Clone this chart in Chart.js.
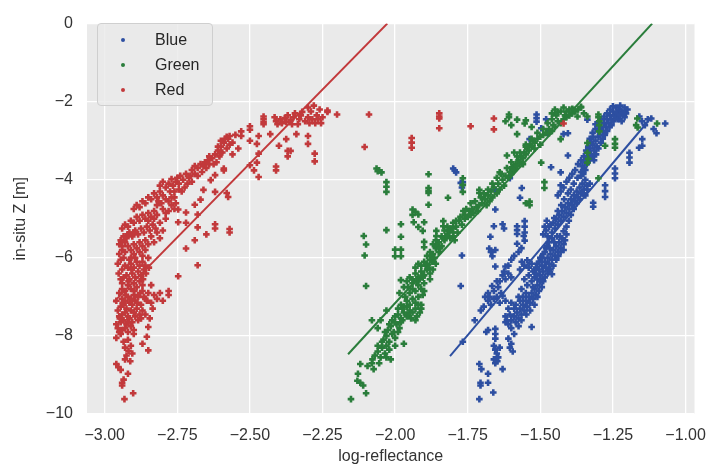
<!DOCTYPE html>
<html>
<head>
<meta charset="utf-8">
<script src="https://cdn.jsdelivr.net/npm/chart.js@4.4.1/dist/chart.umd.min.js"></script>
<style>
  body { margin: 0; background: #fff; }
  #wrap { position: relative; width: 718px; height: 470px; }
  #legend {
    position: absolute; left: 97px; top: 23px; width: 114px; height: 81px;
    background: rgba(234,234,234,0.8); border: 1px solid #cfcfcf; border-radius: 4px;
    font-family: "Liberation Sans", Arial, sans-serif; font-size: 16px; color: #262626;
  }
  #legend .row { position: absolute; left: 0; height: 20px; line-height: 20px; }
  #legend .dot { position: absolute; left: 23px; top: 8px; width: 4px; height: 4px; border-radius: 2px; }
  #legend .txt { position: absolute; left: 57px; top: 0; white-space: nowrap; }
</style>
</head>
<body>
<div id="wrap">
  <canvas id="chart" width="718" height="470"></canvas>
  <div id="legend"></div>
</div>
<script>
const seriesNames = ['Blue', 'Green', 'Red'];
const seriesColors = ['#2d4fa1', '#2a7d3b', '#c2393b'];

const xTicks = [-3.00, -2.75, -2.50, -2.25, -2.00, -1.75, -1.50, -1.25, -1.00];
const yTicks = [-10, -8, -6, -4, -2, 0];

// regression lines, start and end points
const blueFit = [[-1.811, -8.52], [-1.115, -2.38]];
const greenFit = [[-2.162, -8.47], [-1.115, 0]];
const redFit = [[-2.97, -7.14], [-2.027, 0]];

const bluePoints = [
  [-1.71,-9.62],[-1.662,-9.45],[-1.706,-9.2],[-1.706,-9.27],[-1.68,-9.2],[-1.68,-8.97],[-1.71,-8.72],[-1.703,-8.85],
  [-1.655,-8.7],[-1.63,-8.85],[-1.66,-8.25],[-1.655,-8.35],[-1.65,-8.45],[-1.645,-8.55],[-1.64,-8.3],[-1.66,-8.6],[-1.648,-8.65],
  [-1.655,-7.82],[-1.655,-7.95],[-1.655,-8.07],[-1.686,-7.9],[-1.68,-7.85],[-1.61,-8.07],[-1.6,-8.2],[-1.595,-8.4],[-1.605,-8.3],
  [-1.62,-7.5],[-1.615,-7.6],[-1.61,-7.7],[-1.6,-7.8],[-1.59,-7.95],[-1.53,-7.77],
  [-1.767,-8.15],[-1.726,-7.6],[-1.69,-7.0],[-1.68,-7.1],[-1.67,-7.2],[-1.66,-7.05],[-1.65,-7.0],[-1.64,-7.15],[-1.63,-6.97],
  [-1.62,-7.1],[-1.666,-6.72],[-1.63,-6.45],[-1.62,-6.55],[-1.61,-6.4],[-1.6,-6.5],[-1.655,-6.22],[-1.62,-6.22],
  [-1.676,-5.76],[-1.67,-5.85],[-1.665,-5.96],[-1.655,-5.8],[-1.672,-5.46],[-1.58,-5.64],[-1.557,-5.44],
  [-1.564,-6.1],[-1.555,-6.2],[-1.545,-6.06],[-1.54,-6.25],[-1.53,-6.15],[-1.52,-6.31],[-1.57,-6.3],
  [-1.6,-7.6],[-1.59,-7.5],[-1.585,-7.65],[-1.58,-7.4],[-1.575,-7.55],[-1.57,-7.3],[-1.565,-7.45],[-1.56,-7.2],[-1.555,-7.35],
  [-1.55,-7.1],[-1.545,-7.25],[-1.54,-7.0],[-1.535,-7.15],[-1.53,-6.9],[-1.525,-7.05],[-1.52,-6.8],[-1.515,-6.95],[-1.51,-6.7],
  [-1.505,-6.85],[-1.5,-6.6],[-1.55,-6.9],[-1.56,-7.0],[-1.57,-7.1],[-1.52,-6.5],[-1.515,-6.4],[-1.51,-6.55],[-1.505,-6.3],
  [-1.5,-6.45],[-1.495,-6.2],[-1.49,-6.35],[-1.485,-6.1],[-1.48,-6.25],[-1.475,-6.0],[-1.47,-6.15],[-1.465,-5.9],[-1.46,-6.05],
  [-1.455,-5.8],[-1.45,-5.95],[-1.445,-5.7],[-1.44,-5.85],[-1.435,-5.6],[-1.43,-5.75],[-1.425,-5.5],[-1.42,-5.65],
  [-1.49,-5.9],[-1.48,-5.75],[-1.47,-5.6],[-1.46,-5.5],[-1.5,-6.0],[-1.51,-6.15],
  [-1.49,-5.4],[-1.48,-5.3],[-1.475,-5.45],[-1.47,-5.2],[-1.46,-5.35],[-1.455,-5.1],[-1.45,-5.25],[-1.445,-5.0],[-1.44,-5.15],
  [-1.435,-4.9],[-1.43,-5.05],[-1.425,-4.8],[-1.42,-4.95],[-1.415,-4.7],[-1.41,-4.85],[-1.405,-4.6],[-1.4,-4.75],[-1.395,-4.5],
  [-1.39,-4.65],[-1.385,-4.4],[-1.38,-4.55],[-1.375,-4.3],[-1.37,-4.45],[-1.365,-4.2],[-1.36,-4.35],[-1.355,-4.1],[-1.35,-4.25],
  [-1.345,-4.0],[-1.34,-4.15],[-1.44,-4.4],[-1.43,-4.3],[-1.42,-4.2],[-1.41,-4.05],[-1.4,-3.95],[-1.39,-3.85],[-1.38,-3.75],[-1.37,-3.6],
  [-1.36,-3.5],[-1.355,-3.65],[-1.35,-3.4],[-1.345,-3.55],[-1.34,-3.3],[-1.335,-3.45],[-1.33,-3.2],[-1.325,-3.35],[-1.32,-3.1],
  [-1.315,-3.25],[-1.31,-3.0],[-1.305,-3.15],[-1.3,-2.9],[-1.3,-2.75],[-1.295,-2.85],[-1.29,-2.65],[-1.285,-2.75],[-1.28,-2.55],
  [-1.275,-2.65],[-1.27,-2.45],[-1.265,-2.55],[-1.26,-2.35],[-1.255,-2.45],[-1.25,-2.25],[-1.245,-2.35],[-1.24,-2.15],[-1.235,-2.3],
  [-1.23,-2.2],[-1.225,-2.1],[-1.22,-2.25],[-1.21,-2.15],[-1.205,-2.3],[-1.2,-2.2],[-1.21,-2.4],[-1.22,-2.5],[-1.33,-2.95],
  [-1.32,-2.8],[-1.31,-2.7],[-1.3,-2.6],[-1.35,-3.7],[-1.36,-3.9],
  [-1.159,-2.38],[-1.15,-2.5],[-1.14,-2.6],[-1.13,-2.45],[-1.118,-2.43],[-1.11,-2.7],[-1.10,-2.81],[-1.07,-2.56],[-1.149,-2.96],
  [-1.149,-3.13],[-1.16,-3.18],[-1.193,-3.31],[-1.193,-3.43],[-1.193,-3.56],[-1.243,-3.71],[-1.243,-3.84],[-1.243,-3.96],
  [-1.277,-4.14],[-1.277,-4.29],[-1.277,-4.44],[-1.318,-4.59],[-1.318,-4.69],
  [-1.513,-2.33],[-1.513,-2.42],[-1.513,-2.51],[-1.497,-2.68],[-1.473,-2.81],[-1.537,-2.96],[-1.42,-2.83],[-1.405,-3.38],
  [-1.463,-3.68],[-1.43,-3.81],[-1.43,-4.14],[-1.655,-4.26],[-1.564,-4.21],[-1.57,-4.46],[-1.605,-3.96],[-1.58,-5.19],
  [-1.58,-5.29],[-1.58,-5.39],[-1.554,-5.06],[-1.554,-5.2],[-1.554,-5.35],[-1.554,-5.56],[-1.63,-5.14],[-1.625,-5.25],
  [-1.66,-5.19],[-1.655,-4.76],[-1.767,-4.06],[-1.80,-3.71],[-1.795,-3.76],[-1.79,-3.81],[-1.774,-4.08],[-1.77,-4.2],
  [-1.77,-5.94],[-1.774,-6.72],[-1.405,-2.81],[-1.338,-2.46],[-1.48,-2.45],
  [-1.59,-7.3],[-1.575,-7.0],[-1.565,-6.8],[-1.545,-6.7],[-1.53,-6.6],[-1.555,-6.55],[-1.54,-6.45],[-1.525,-6.75],[-1.6,-7.15],
  [-1.61,-7.3],[-1.585,-7.2],[-1.62,-7.65],[-1.605,-7.45],[-1.575,-7.75],[-1.565,-7.6],[-1.548,-7.45],[-1.535,-7.35],[-1.52,-7.2],
  [-1.51,-7.0],[-1.495,-6.75],[-1.49,-6.6],
  [-1.485,-6.5],[-1.475,-6.4],[-1.465,-6.3],[-1.455,-6.2],[-1.445,-6.05],[-1.438,-5.95],[-1.43,-5.85],[-1.42,-5.8],[-1.415,-5.55],
  [-1.41,-5.4],[-1.525,-6.35],[-1.515,-6.25],[-1.505,-6.1],[-1.495,-6.0],[-1.485,-5.85],[-1.478,-5.7],[-1.468,-5.75],[-1.452,-5.6],
  [-1.442,-5.45],[-1.47,-6.32],[-1.46,-6.42],[-1.498,-6.58],
  [-1.465,-5.15],[-1.452,-4.98],[-1.44,-4.8],[-1.428,-4.65],[-1.418,-4.5],[-1.405,-4.35],[-1.395,-4.25],[-1.385,-4.1],[-1.372,-3.95],
  [-1.41,-5.2],[-1.402,-5.05],[-1.395,-4.9],[-1.385,-4.75],[-1.375,-4.6],[-1.365,-4.5],[-1.352,-4.35],[-1.345,-4.4],[-1.338,-4.25],
  [-1.33,-4.1],[-1.42,-5.32],[-1.432,-5.45],[-1.485,-5.2],[-1.478,-5.05],
  [-1.36,-3.8],[-1.352,-3.85],[-1.345,-3.75],[-1.34,-3.6],[-1.33,-3.5],[-1.322,-3.4],[-1.315,-3.5],[-1.308,-3.35],[-1.3,-3.2],
  [-1.292,-3.05],[-1.285,-2.95],[-1.278,-2.85],[-1.27,-2.75],[-1.262,-2.65],[-1.255,-2.6],[-1.248,-2.5],[-1.24,-2.4],[-1.232,-2.45],
  [-1.225,-2.35],[-1.215,-2.28],[-1.25,-2.12],[-1.26,-2.2],[-1.27,-2.3],[-1.28,-2.38],[-1.29,-2.45],[-1.3,-2.52],[-1.31,-2.58],
  [-1.318,-2.9],[-1.325,-3.05],[-1.335,-3.15],[-1.342,-3.25],
  [-1.705,-7.35],[-1.695,-7.25],[-1.675,-7.0],[-1.66,-6.85],[-1.645,-6.75],[-1.64,-6.6],[-1.625,-6.35],[-1.61,-6.2],[-1.6,-6.05],
  [-1.59,-5.95],[-1.575,-5.85],[-1.565,-5.75],[-1.68,-6.9],[-1.65,-6.6],[-1.635,-6.9]
];

const greenPoints = [
  [-2.152,-9.62],[-2.10,-9.47],[-2.13,-9.15],[-2.12,-9.2],[-2.11,-9.27],[-2.128,-8.97],[-2.12,-8.72],[-2.095,-8.77],
  [-2.074,-8.85],[-2.08,-8.7],[-2.078,-8.6],[-2.07,-8.5],[-2.06,-8.4],[-2.05,-8.55],[-2.045,-8.3],[-2.035,-8.45],[-2.03,-8.25],
  [-2.02,-8.35],[-2.015,-8.6],[-2.06,-8.25],
  [-2.04,-8.1],[-2.03,-8.0],[-2.02,-8.15],[-2.01,-7.95],[-2.0,-8.05],[-2.025,-7.85],[-2.015,-7.75],[-2.005,-7.9],[-1.995,-7.7],
  [-1.985,-7.8],[-1.975,-7.6],[-2.01,-7.6],[-2.0,-7.5],[-1.99,-7.45],[-1.98,-7.55],[-1.97,-7.4],[-1.96,-7.5],[-1.95,-7.35],
  [-1.99,-7.3],[-1.98,-7.2],[-1.97,-7.25],[-1.96,-7.1],[-1.95,-7.2],[-1.94,-7.05],[-1.93,-7.15],[-1.92,-7.0],[-2.03,-7.35],
  [-2.05,-7.6],[-1.91,-7.3],[-1.905,-6.95],[-1.97,-8.2],[-2.08,-7.6],[-2.06,-7.8],
  [-1.95,-6.9],[-1.94,-6.8],[-1.93,-6.85],[-1.92,-6.7],[-1.91,-6.8],[-1.9,-6.65],[-1.96,-6.6],[-1.95,-6.5],[-1.94,-6.55],
  [-1.93,-6.4],[-1.92,-6.5],[-1.91,-6.35],[-1.9,-6.45],[-1.89,-6.3],[-1.88,-6.4],[-1.93,-6.25],[-1.92,-6.15],[-1.91,-6.2],
  [-1.9,-6.1],[-1.89,-6.15],[-1.88,-6.05],[-1.87,-6.1],[-1.97,-6.75],[-1.985,-6.9],[-1.94,-7.4],[-1.93,-7.3],[-1.925,-7.5],
  [-1.915,-7.4],[-1.91,-7.2],[-1.945,-7.55],[-1.955,-7.45],
  [-1.89,-5.95],[-1.88,-5.85],[-1.87,-5.9],[-1.86,-5.75],[-1.85,-5.85],[-1.84,-5.7],[-1.87,-5.65],[-1.86,-5.55],[-1.85,-5.6],
  [-1.84,-5.45],[-1.83,-5.55],[-1.82,-5.4],[-1.81,-5.5],[-1.8,-5.35],[-1.83,-5.3],[-1.82,-5.2],[-1.81,-5.25],[-1.8,-5.1],
  [-1.79,-5.2],[-1.78,-5.05],[-1.77,-5.15],[-1.76,-5.0],[-1.8,-5.45],[-1.785,-5.35],[-1.795,-5.55],
  [-2.108,-5.44],[-2.10,-5.66],[-2.105,-5.94],[-2.10,-6.72],[-2.0,-5.79],[-1.98,-5.79],[-2.0,-5.96],[-1.98,-5.96],[-1.98,-5.46],
  [-1.98,-6.57],[-1.90,-5.59],[-1.90,-5.73],[-2.03,-5.29],[-1.98,-5.14],[-1.936,-5.09],[-1.94,-4.76],[-1.93,-4.82],[-1.92,-4.89],
  [-1.92,-5.21],[-1.90,-5.09],[-1.905,-5.31],[-1.858,-5.31],[-1.858,-5.44],[-1.834,-5.06],[-1.834,-5.19],[-1.94,-4.9],
  [-2.064,-3.71],[-2.055,-3.76],[-2.047,-3.81],[-2.06,-3.78],[-2.03,-4.06],[-2.03,-4.18],[-2.03,-4.31],[-1.885,-3.86],
  [-1.885,-4.21],[-1.885,-4.28],[-1.885,-4.34],[-1.885,-4.64],[-1.818,-4.46],[-1.767,-3.96],[-1.767,-4.13],[-1.767,-4.31],
  [-1.76,-4.9],[-1.75,-4.95],[-1.745,-4.8],[-1.74,-4.9],[-1.735,-4.75],[-1.73,-4.85],[-1.72,-4.7],[-1.715,-4.8],[-1.71,-4.65],
  [-1.7,-4.6],[-1.69,-4.5],[-1.685,-4.65],[-1.68,-4.4],[-1.675,-4.55],[-1.67,-4.3],[-1.665,-4.45],[-1.66,-4.2],[-1.65,-4.35],
  [-1.645,-4.1],[-1.64,-4.25],[-1.63,-4.0],[-1.625,-4.15],[-1.71,-4.26],[-1.71,-4.34],[-1.64,-3.81],[-1.598,-3.68],[-1.615,-3.38],
  [-1.537,-4.56],[-1.55,-4.6],[-1.537,-4.65],[-1.486,-4.06],[-1.486,-4.21],[-1.497,-3.56],
  [-1.62,-3.9],[-1.61,-3.95],[-1.605,-3.8],[-1.6,-3.85],[-1.595,-3.7],[-1.59,-3.75],[-1.585,-3.6],[-1.58,-3.65],[-1.575,-3.5],
  [-1.57,-3.55],[-1.565,-3.4],[-1.56,-3.45],[-1.555,-3.3],[-1.55,-3.35],[-1.545,-3.2],[-1.54,-3.25],[-1.535,-3.1],[-1.53,-3.15],
  [-1.525,-3.0],[-1.52,-3.05],[-1.51,-2.95],[-1.5,-2.9],[-1.59,-3.3],[-1.58,-3.4],[-1.56,-3.6],[-1.55,-3.1],[-1.52,-3.2],[-1.5,-3.1],
  [-1.49,-2.85],[-1.48,-2.8],[-1.47,-2.7],[-1.46,-2.75],[-1.455,-2.6],[-1.45,-2.65],[-1.44,-2.5],[-1.43,-2.55],[-1.42,-2.45],
  [-1.41,-2.4],[-1.4,-2.35],[-1.39,-2.3],[-1.38,-2.25],[-1.37,-2.2],[-1.36,-2.15],[-1.46,-2.3],[-1.45,-2.2],[-1.44,-2.26],
  [-1.42,-2.15],[-1.41,-2.25],[-1.39,-2.18],[-1.385,-2.21],[-1.372,-2.38],[-1.36,-2.13],[-1.338,-2.38],[-1.35,-2.3],[-1.47,-2.81],
  [-1.43,-2.96],[-1.338,-3.31],[-1.338,-3.56],[-1.335,-3.46],[-1.338,-3.06],
  [-1.608,-2.33],[-1.608,-2.4],[-1.554,-2.56],[-1.58,-2.83],[-1.62,-2.5],[-1.58,-2.46],[-1.55,-2.48],[-1.6,-2.6],[-1.53,-2.65],
  [-1.30,-2.33],[-1.30,-2.4],[-1.297,-2.5],[-1.297,-2.6],[-1.297,-2.76],[-1.277,-3.13],[-1.243,-2.96],[-1.243,-3.08],
  [-1.243,-3.18],[-1.166,-2.43],[-1.17,-2.6],[-1.165,-2.66],[-1.098,-2.56],[-1.30,-3.96],
  [-2.045,-8.15],[-2.035,-7.9],[-2.02,-7.7],[-2.0,-7.65],[-1.99,-7.9],[-1.975,-7.3],[-1.965,-7.0],[-1.955,-6.75],[-1.94,-6.65],
  [-1.925,-6.6],[-1.915,-6.55],[-1.905,-6.5],[-1.895,-6.2],[-1.885,-6.25],[-1.875,-5.95],[-1.865,-6.0],[-1.855,-5.7],[-1.845,-5.75],
  [-1.835,-5.5],[-1.825,-5.45],[-1.815,-5.3],[-1.805,-5.25],[-1.79,-5.05],[-1.775,-4.95],[-1.765,-4.8],[-1.755,-4.75],[-1.74,-4.6],
  [-1.725,-4.55],[-1.705,-4.45],[-1.695,-4.35],[-1.68,-4.25],[-1.665,-4.1],[-1.65,-3.95],[-1.635,-3.85],[-1.615,-3.7],[-1.6,-3.55],
  [-1.57,-3.3],[-1.55,-3.15],[-1.53,-2.95],[-1.51,-2.8],[-1.49,-2.7],[-1.475,-2.55],[-1.46,-2.45],[-1.445,-2.35],[-1.43,-2.25],
  [-1.415,-2.35],[-1.4,-2.2],[-1.93,-7.6],[-1.92,-7.2],[-1.9,-6.85],[-1.88,-6.55],[-1.87,-6.3],[-1.86,-6.15],[-1.96,-7.25],
  [-1.98,-7.65],[-2.0,-8.25],[-2.03,-8.55],[-2.055,-8.7]
];

const redPoints = [
  [-2.932,-9.62],[-2.902,-9.47],[-2.94,-9.27],[-2.94,-9.2],[-2.935,-9.12],[-2.92,-8.97],[-2.96,-8.72],[-2.953,-8.8],
  [-2.945,-8.87],[-2.93,-8.6],[-2.925,-8.5],[-2.918,-8.38],[-2.93,-8.3],[-2.91,-8.25],[-2.935,-8.15],[-2.92,-8.1],[-2.905,-8.45],
  [-2.912,-8.65],[-2.87,-8.2],[-2.85,-8.37],[-2.855,-8.02],[-2.85,-7.77],[-2.96,-8.05],[-2.945,-7.95],
  [-2.95,-7.9],[-2.94,-7.85],[-2.93,-7.8],[-2.92,-7.9],[-2.91,-7.75],[-2.9,-7.85],[-2.96,-7.7],[-2.945,-7.65],[-2.935,-7.6],
  [-2.925,-7.7],[-2.915,-7.55],[-2.905,-7.65],[-2.895,-7.5],[-2.885,-7.6],[-2.95,-7.5],[-2.94,-7.45],[-2.93,-7.4],[-2.92,-7.5],
  [-2.91,-7.35],[-2.9,-7.4],[-2.89,-7.3],[-2.88,-7.45],[-2.955,-7.35],[-2.945,-7.25],[-2.935,-7.2],[-2.925,-7.3],[-2.915,-7.15],
  [-2.905,-7.2],[-2.895,-7.1],[-2.875,-7.2],[-2.87,-7.35],[-2.86,-7.05],[-2.94,-7.05],[-2.93,-7.1],[-2.92,-7.0],[-2.91,-7.05],
  [-2.9,-6.95],[-2.885,-7.0],
  [-2.87,-6.85],[-2.865,-7.0],[-2.855,-7.1],[-2.85,-6.9],[-2.84,-7.15],[-2.835,-7.3],[-2.83,-6.95],[-2.82,-7.05],[-2.81,-6.9],
  [-2.8,-7.1],[-2.78,-6.85],[-2.78,-6.95],[-2.86,-7.45],[-2.845,-7.55],[-2.875,-7.55],
  [-2.95,-6.9],[-2.94,-6.8],[-2.93,-6.85],[-2.92,-6.7],[-2.91,-6.8],[-2.9,-6.65],[-2.89,-6.75],[-2.88,-6.6],[-2.87,-6.7],
  [-2.84,-6.7],[-2.945,-6.55],[-2.935,-6.5],[-2.925,-6.45],[-2.915,-6.55],[-2.905,-6.4],[-2.895,-6.5],[-2.885,-6.35],
  [-2.875,-6.45],[-2.865,-6.3],[-2.94,-6.3],[-2.93,-6.2],[-2.92,-6.25],[-2.91,-6.15],[-2.9,-6.25],[-2.89,-6.1],[-2.88,-6.2],
  [-2.87,-6.1],[-2.86,-6.2],[-2.955,-6.15],[-2.945,-6.05],[-2.935,-6.0],[-2.915,-6.05],[-2.895,-6.0],[-2.85,-6.0],
  [-2.747,-6.47],[-2.68,-6.19],[-2.72,-5.76],
  [-2.95,-5.9],[-2.94,-5.8],[-2.93,-5.85],[-2.92,-5.7],[-2.91,-5.8],[-2.9,-5.65],[-2.89,-5.75],[-2.88,-5.6],[-2.87,-5.7],
  [-2.86,-5.55],[-2.85,-5.65],[-2.83,-5.6],[-2.81,-5.5],[-2.945,-5.55],[-2.935,-5.45],[-2.925,-5.5],[-2.915,-5.35],[-2.905,-5.45],
  [-2.895,-5.3],[-2.885,-5.4],[-2.875,-5.25],[-2.865,-5.35],[-2.855,-5.2],[-2.845,-5.3],[-2.835,-5.15],[-2.825,-5.25],[-2.81,-5.1],
  [-2.94,-5.25],[-2.93,-5.15],[-2.92,-5.2],[-2.91,-5.05],[-2.9,-5.1],[-2.89,-4.95],[-2.88,-5.05],[-2.87,-4.9],[-2.86,-5.0],
  [-2.85,-4.85],[-2.84,-4.95],[-2.83,-4.8],[-2.82,-4.9],[-2.8,-4.75],[-2.79,-4.85],
  [-2.9,-4.75],[-2.89,-4.65],[-2.88,-4.7],[-2.87,-4.55],[-2.86,-4.6],[-2.85,-4.45],[-2.84,-4.5],[-2.83,-4.35],[-2.82,-4.45],
  [-2.81,-4.3],[-2.8,-4.4],[-2.81,-4.15],[-2.8,-4.05],[-2.79,-4.2],[-2.78,-4.1],[-2.775,-4.3],[-2.77,-3.98],[-2.765,-4.15],
  [-2.76,-4.45],[-2.755,-4.05],[-2.75,-3.95],[-2.745,-4.25],[-2.74,-3.9],[-2.73,-4.0],[-2.72,-3.85],[-2.71,-3.95],[-2.78,-4.55],
  [-2.77,-4.65],[-2.79,-4.5],[-2.76,-4.75],
  [-2.747,-4.76],[-2.72,-4.84],[-2.69,-4.64],[-2.68,-4.89],[-2.747,-5.09],[-2.72,-5.1],[-2.68,-5.22],[-2.62,-5.14],[-2.62,-5.25],
  [-2.57,-5.26],[-2.57,-5.35],[-2.67,-4.51],[-2.66,-4.26],[-2.62,-4.31],[-2.635,-4.01],[-2.62,-3.88],[-2.59,-3.71],[-2.58,-4.34],
  [-2.575,-4.44],[-2.69,-5.55],[-2.65,-5.4],
  [-2.7,-3.75],[-2.69,-3.85],[-2.68,-3.7],[-2.67,-3.6],[-2.665,-3.8],[-2.655,-3.55],[-2.65,-3.7],[-2.645,-3.5],[-2.64,-3.6],
  [-2.63,-3.45],[-2.62,-3.35],[-2.615,-3.55],[-2.61,-3.25],[-2.605,-3.4],[-2.6,-3.15],[-2.595,-3.3],[-2.59,-3.05],[-2.58,-3.2],
  [-2.575,-2.95],[-2.57,-3.1],[-2.59,-3.76],[-2.5,-3.63],[-2.476,-3.56],[-2.486,-3.76],[-2.47,-3.93],[-2.47,-3.33],[-2.476,-3.08],
  [-2.5,-3.0],[-2.53,-2.76],[-2.53,-2.88],[-2.5,-2.63],[-2.5,-2.72],[-2.47,-2.88],[-2.41,-3.66],[-2.41,-3.76],[-2.40,-3.13],
  [-2.375,-2.96],[-2.37,-3.26],[-2.37,-3.4],[-2.36,-3.26],[-2.277,-3.33],[-2.277,-3.53],[-2.30,-3.08],[-2.30,-2.88],[-2.34,-2.83],
  [-2.43,-2.83],[-2.6,-3.0],[-2.58,-2.9],[-2.56,-3.05],[-2.55,-2.85],[-2.54,-3.2],[-2.56,-3.35],
  [-2.453,-2.38],[-2.453,-2.45],[-2.453,-2.52],[-2.453,-2.58],[-2.415,-2.4],[-2.41,-2.5],[-2.405,-2.58],[-2.395,-2.45],
  [-2.39,-2.55],[-2.38,-2.42],[-2.375,-2.52],[-2.37,-2.35],[-2.36,-2.48],[-2.355,-2.58],[-2.35,-2.4],[-2.345,-2.3],[-2.335,-2.58],
  [-2.33,-2.45],[-2.325,-2.35],[-2.32,-2.26],[-2.31,-2.5],[-2.3,-2.15],[-2.3,-2.4],[-2.295,-2.55],[-2.29,-2.25],[-2.285,-2.45],
  [-2.28,-2.1],[-2.275,-2.55],[-2.27,-2.35],[-2.265,-2.45],[-2.26,-2.2],[-2.255,-2.55],[-2.25,-2.4],[-2.233,-2.26],[-2.20,-2.33],
  [-2.233,-2.23],
  [-2.09,-2.33],[-2.105,-3.16],[-1.943,-2.93],[-1.943,-3.05],[-1.943,-3.18],[-1.848,-2.3],[-1.848,-2.38],[-1.848,-2.43],
  [-1.848,-2.68],[-1.74,-2.63],[-1.66,-2.43],[-1.66,-2.71],[-1.42,-2.56],
  [-2.955,-7.8],[-2.948,-7.55],[-2.938,-7.15],[-2.928,-6.95],[-2.918,-6.6],[-2.908,-6.3],[-2.898,-6.85],[-2.888,-7.15],
  [-2.878,-6.9],[-2.868,-6.55],[-2.858,-6.4],[-2.848,-6.25],[-2.94,-6.65],[-2.952,-6.4],[-2.96,-7.1],[-2.92,-7.65],[-2.9,-7.95],
  [-2.91,-6.0],[-2.9,-5.9],[-2.88,-5.85],[-2.87,-5.95],[-2.86,-5.8],[-2.84,-5.45],[-2.82,-5.35],[-2.8,-5.3],[-2.79,-5.0],
  [-2.78,-4.8],[-2.77,-4.45],[-2.76,-4.3],[-2.755,-4.6],[-2.745,-4.1],[-2.735,-4.3],[-2.725,-4.2],[-2.715,-4.1],[-2.705,-3.9],
  [-2.7,-4.05],[-2.69,-3.65],[-2.68,-3.9],[-2.66,-3.65],[-2.64,-3.4],[-2.625,-3.6],[-2.61,-3.15],[-2.6,-3.3],[-2.585,-2.95],
  [-2.57,-2.88],[-2.93,-5.6],[-2.92,-5.4],[-2.9,-5.35],[-2.94,-5.7],[-2.95,-5.65],[-2.85,-5.05],[-2.83,-5.0],[-2.82,-4.65],
  [-2.815,-4.55],[-2.805,-4.6]
];

const toXY = arr => arr.map(p => ({ x: p[0], y: p[1] }));
const minus = s => s.replace('-', '\u2212');
const fontFamily = '"Liberation Sans", Arial, sans-serif';

const pointSets = [bluePoints, greenPoints, redPoints];
const fitSets = [blueFit, greenFit, redFit];

const datasets = [];
// draw order bottom to top: blue points, blue line, green points, green line, red points, red line
pointSets.forEach((pts, i) => {
    datasets.push({
        label: seriesNames[i],
        data: toXY(pts),
        pointStyle: 'cross',
        pointRadius: 3.3,
        pointBorderWidth: 2.6,
        borderColor: seriesColors[i],
        backgroundColor: seriesColors[i],
        showLine: false,
        order: 10 - i * 2
    });
});
fitSets.forEach((pts, i) => {
    datasets.push({
        label: seriesNames[i] + ' fit',
        data: toXY(pts),
        showLine: true,
        pointRadius: 0,
        borderWidth: 2,
        borderColor: seriesColors[i],
        order: 9 - i * 2
    });
});

const plotBg = {
    id: 'plotBg',
    beforeDraw(chart) {
        const a = chart.chartArea;
        const ctx = chart.ctx;
        ctx.save();
        ctx.fillStyle = '#eaeaea';
        ctx.fillRect(a.left, a.top, a.right - a.left, a.bottom - a.top);
        ctx.restore();
    }
};

const ctx = document.getElementById('chart').getContext('2d');
new Chart(ctx, {
    type: 'scatter',
    data: { datasets: datasets },
    options: {
        responsive: false,
        animation: false,
        devicePixelRatio: 1,
        layout: { padding: { left: 0, right: 15, top: 15, bottom: 0 } },
        plugins: {
            legend: { display: false },
            tooltip: { enabled: false }
        },
        scales: {
            x: {
                type: 'linear',
                min: -3.061,
                max: -0.969,
                afterBuildTicks: axis => { axis.ticks = xTicks.map(v => ({ value: v })); },
                afterFit: scale => { scale.height = 56; },
                border: { display: false },
                grid: { color: '#ffffff', lineWidth: 1.3, drawTicks: false },
                ticks: {
                    padding: 12,
                    color: '#333333',
                    font: { family: fontFamily, size: 16 },
                    callback: v => minus(v.toFixed(2))
                },
                title: {
                    display: true,
                    text: 'log-reflectance',
                    color: '#333333',
                    font: { family: fontFamily, size: 16 },
                    padding: { top: 0, bottom: 4 }
                }
            },
            y: {
                type: 'linear',
                min: -10,
                max: 0,
                afterBuildTicks: axis => { axis.ticks = yTicks.map(v => ({ value: v })); },
                afterFit: scale => { scale.width = 87; },
                border: { display: false },
                grid: { color: '#ffffff', lineWidth: 1.3, drawTicks: false },
                ticks: {
                    padding: 14,
                    color: '#333333',
                    font: { family: fontFamily, size: 16 },
                    callback: v => minus(String(v))
                },
                title: {
                    display: true,
                    text: 'in-situ Z [m]',
                    color: '#333333',
                    font: { family: fontFamily, size: 16 },
                    padding: { top: 11, bottom: 0 }
                }
            }
        }
    },
    plugins: [plotBg]
});

// legend inside the plot, top left
const legendEl = document.getElementById('legend');
seriesNames.forEach((name, i) => {
    const row = document.createElement('div');
    row.className = 'row';
    row.style.top = (6 + i * 25) + 'px';
    row.innerHTML = '<span class="dot" style="background:' + seriesColors[i] + '"></span><span class="txt">' + name + '</span>';
    legendEl.appendChild(row);
});
</script>
</body>
</html>
